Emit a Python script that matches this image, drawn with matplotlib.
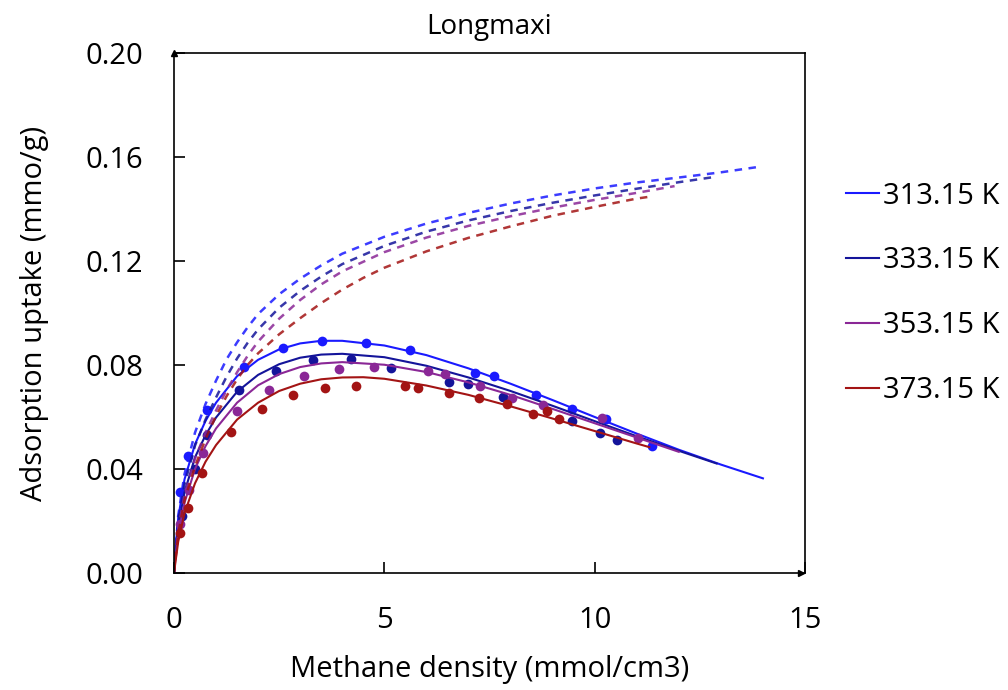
import numpy as np
import matplotlib
matplotlib.use("Agg")
import matplotlib.pyplot as plt

plt.rcParams['font.family'] = ['Open Sans', 'DejaVu Sans']

labels = ['313.15 K', '333.15 K', '353.15 K', '373.15 K']
colors = ['#1a1aff', '#14149a', '#8a2796', '#a31414']

# measured points (excess uptake)
pts_x = [
    [0.14, 0.34, 0.78, 1.67, 2.60, 3.53, 4.56, 5.60, 7.15, 7.61, 8.60, 9.45, 10.28, 11.37],
    [0.20, 0.50, 0.78, 1.55, 2.42, 3.31, 4.21, 5.16, 6.54, 7.00, 7.83, 9.45, 10.13, 10.54],
    [0.15, 0.35, 0.70, 1.49, 2.27, 3.09, 3.93, 4.76, 6.03, 6.44, 7.27, 8.03, 8.78, 10.17, 11.04],
    [0.14, 0.34, 0.66, 1.35, 2.10, 2.82, 3.59, 4.33, 5.49, 5.81, 6.54, 7.26, 7.92, 8.54, 8.86, 9.16],
]
pts_y = [
    [0.031, 0.045, 0.0627, 0.0793, 0.0865, 0.0891, 0.0884, 0.0857, 0.0771, 0.0758, 0.0686, 0.0632, 0.0593, 0.049],
    [0.022, 0.040, 0.0529, 0.0703, 0.0777, 0.0820, 0.0822, 0.0790, 0.0736, 0.0726, 0.0678, 0.0584, 0.0540, 0.0511],
    [0.019, 0.032, 0.0462, 0.0623, 0.0705, 0.0756, 0.0784, 0.0794, 0.0775, 0.0764, 0.0719, 0.0674, 0.0645, 0.0597, 0.052],
    [0.0153, 0.025, 0.0385, 0.0542, 0.0629, 0.0683, 0.0710, 0.0719, 0.0719, 0.0710, 0.0694, 0.0674, 0.0649, 0.0610, 0.0623, 0.0593],
]

# fitted excess curves (solid)
fit_x = [
    [0, 0.05, 0.1, 0.25, 0.5, 0.75, 1, 1.5, 2, 2.5, 3, 3.5, 4, 5, 6, 7, 8, 9, 10, 11, 12, 13, 14],
    [0, 0.05, 0.1, 0.25, 0.5, 0.75, 1, 1.5, 2, 2.5, 3, 3.5, 4, 5, 6, 7, 8, 9, 10, 11, 12, 12.9],
    [0, 0.05, 0.1, 0.25, 0.5, 0.75, 1, 1.5, 2, 2.5, 3, 3.5, 4, 5, 6, 7, 8, 9, 10, 11, 12],
    [0, 0.05, 0.1, 0.25, 0.5, 0.75, 1, 1.5, 2, 2.5, 3, 3.5, 4, 4.5, 5, 6, 7, 8, 9, 10, 11, 11.3],
]
fit_y = [
    [0, 0.012, 0.021, 0.036, 0.0495, 0.0585, 0.0655, 0.0757, 0.0820, 0.0860, 0.0883, 0.0893, 0.0893,
     0.0875, 0.0838, 0.0787, 0.0728, 0.0665, 0.0600, 0.0536, 0.0474, 0.0417, 0.0364],
    [0, 0.010, 0.018, 0.031, 0.0445, 0.053, 0.0598, 0.0697, 0.0762, 0.0803, 0.0828, 0.0840, 0.0843,
     0.0830, 0.0797, 0.0752, 0.0700, 0.0643, 0.0584, 0.0526, 0.0470, 0.0421],
    [0, 0.008, 0.015, 0.027, 0.040, 0.0488, 0.0556, 0.0655, 0.0722, 0.0765, 0.0792, 0.0806, 0.0811,
     0.0801, 0.0773, 0.0733, 0.0685, 0.0631, 0.0576, 0.0521, 0.0466],
    [0, 0.006, 0.012, 0.023, 0.0345, 0.0428, 0.0492, 0.0590, 0.0655, 0.0700, 0.0728, 0.0745, 0.0752,
     0.0753, 0.0747, 0.0721, 0.0685, 0.0641, 0.0594, 0.0546, 0.0498, 0.0484],
]

# absolute uptake curves (dashed)
abs_x = [
    [0, 0.1, 0.25, 0.5, 0.75, 1, 1.25, 1.5, 1.75, 2, 2.5, 3, 3.5, 4, 5, 6, 7, 8, 9, 10, 11, 12, 13, 13.9],
    [0, 0.1, 0.25, 0.5, 0.75, 1, 1.25, 1.5, 1.75, 2, 2.5, 3, 3.5, 4, 5, 6, 7, 8, 9, 10, 11, 12, 12.8],
    [0, 0.1, 0.25, 0.5, 0.75, 1, 1.25, 1.5, 1.75, 2, 2.5, 3, 3.5, 4, 5, 6, 7, 8, 9, 10, 11, 11.9],
    [0, 0.1, 0.25, 0.5, 0.75, 1, 1.25, 1.5, 1.75, 2, 2.5, 3, 3.5, 4, 4.5, 5, 6, 7, 8, 9, 10, 11, 11.3],
]
abs_y = [
    [0, 0.022, 0.038, 0.054, 0.065, 0.074, 0.0822, 0.0887, 0.0945, 0.0996, 0.1072, 0.1132, 0.1183,
     0.1228, 0.1293, 0.1344, 0.1385, 0.1421, 0.1452, 0.1479, 0.1502, 0.1521, 0.1541, 0.1562],
    [0, 0.019, 0.034, 0.049, 0.059, 0.0675, 0.0755, 0.0825, 0.0885, 0.0937, 0.1020, 0.1085, 0.1140,
     0.1188, 0.1258, 0.1313, 0.1356, 0.1392, 0.1424, 0.1452, 0.1478, 0.1503, 0.1522],
    [0, 0.017, 0.030, 0.044, 0.054, 0.0625, 0.0703, 0.0772, 0.0835, 0.0890, 0.0978, 0.1050, 0.1110,
     0.1160, 0.1234, 0.1290, 0.1335, 0.1372, 0.1405, 0.1435, 0.1462, 0.1488],
    [0, 0.015, 0.028, 0.041, 0.0515, 0.0605, 0.0680, 0.0745, 0.0800, 0.0845, 0.0918, 0.0980, 0.1038,
     0.1090, 0.1135, 0.1174, 0.1237, 0.1289, 0.1333, 0.1374, 0.1408, 0.1440, 0.1447],
]

fig = plt.figure(figsize=(10.08, 6.9), dpi=100)
ax = fig.add_axes([0.1726, 0.1696, 0.626, 0.7536])

handles = []
for i in range(4):
    ax.plot(abs_x[i], abs_y[i], color=colors[i], lw=1.8, ls=(0, (3, 2.6)), alpha=0.85)
    h, = ax.plot(fit_x[i], fit_y[i], color=colors[i], lw=1.5)
    handles.append(h)
    ax.plot(pts_x[i], pts_y[i], 'o', color=colors[i], ms=7, mec='none')

ax.set_xlim(0, 15)
ax.set_ylim(0, 0.20)
ax.set_xticks([0, 5, 10, 15])
ax.set_yticks([0, 0.04, 0.08, 0.12, 0.16, 0.20])
ax.set_yticklabels(['%.2f' % v for v in [0, 0.04, 0.08, 0.12, 0.16, 0.20]])
ax.tick_params(direction='in', length=8, width=1.2, labelsize=21)
ax.tick_params(axis='y', pad=22)
ax.tick_params(axis='x', pad=24)
for s in ax.spines.values():
    s.set_linewidth(1.2)

# small arrow heads on the axes
ax.plot(0, 1, '^k', ms=4, transform=ax.transAxes, clip_on=False)
ax.plot(0.993, 0, '>k', ms=4, transform=ax.transAxes, clip_on=False)

ax.set_xlabel('Methane density (mmol/cm3)', fontsize=21, labelpad=14)
ax.set_ylabel('Adsorption uptake (mmo/g)', fontsize=21, labelpad=26)
ax.set_title('Longmaxi', fontsize=20, pad=14)

fig.legend(handles, labels, loc='upper left', bbox_to_anchor=(0.8135, 0.775),
           frameon=False, fontsize=21, labelspacing=1.23, handlelength=1.13,
           handletextpad=0.14)

fig.savefig('out.png', dpi=100)
